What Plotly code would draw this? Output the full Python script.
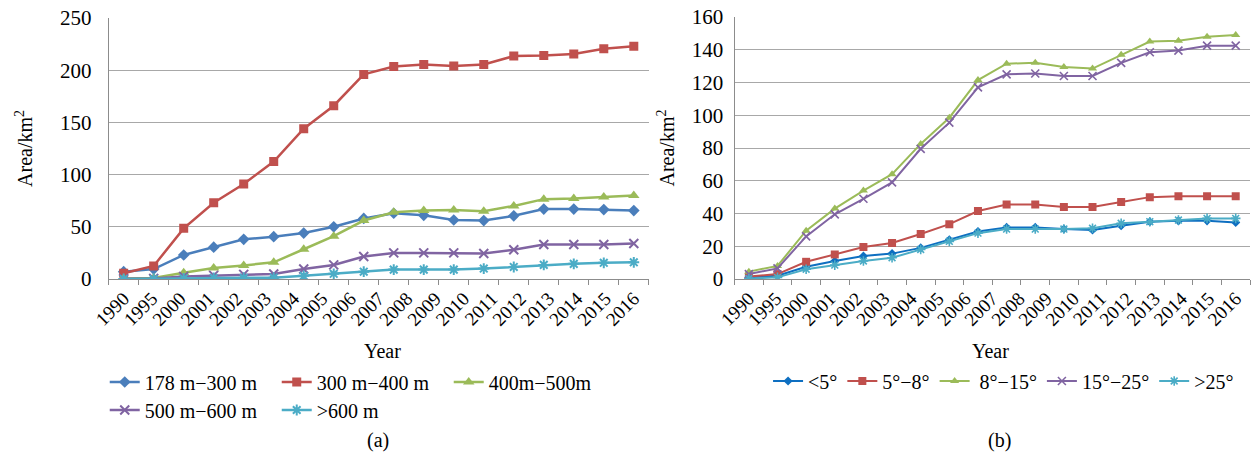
import plotly.graph_objects as go

# Category labels shown under both panels
years = ["1990", "1995", "2000", "2001", "2002", "2003", "2004", "2005", "2006",
         "2007", "2008", "2009", "2010", "2011", "2012", "2013", "2014", "2015", "2016"]

# Panel (a): area by elevation zone (km²)
elev_names = ["178 m−300 m", "300 m−400 m", "400m−500m", "500 m−600 m", ">600 m"]
elev_178_300 = [7, 9.5, 23, 30.5, 38, 40.5, 44, 50, 58, 63, 61, 56.5, 56, 60.5, 67, 67, 66.5, 65.5]
elev_300_400 = [5.5, 12.5, 48.5, 73, 91, 112.5, 144, 166, 196, 203.5, 205.5, 204, 205.5, 213.5, 214, 215.5, 220.5, 223]
elev_400_500 = [0.5, 1, 6, 10.5, 13, 16, 28.5, 41, 56, 64, 65.5, 66, 65, 70, 76.5, 77, 78.5, 80]
elev_500_600 = [0.3, 0.5, 2.5, 3.5, 4.4, 4.8, 9.5, 13.5, 21.5, 25, 25, 25, 24.5, 28, 33, 33, 33, 34]
elev_600_up = [0, 0, 0.5, 1, 1.2, 1.3, 3, 5, 7, 9, 9, 9, 10, 11.5, 13.5, 14.5, 15.5, 16]

# Panel (b): area by slope class (km²)
slope_names = ["<5°", "5°−8°", " 8°−15°", "15°−25°", ">25°"]
slope_lt5 = [1, 2, 7.5, 11, 14, 15.5, 19, 24, 29, 31.5, 31.5, 30.5, 30, 32.5, 35, 35.5, 35.5, 34.5]
slope_5_8 = [1.5, 3, 10.5, 15, 19.5, 22, 27.5, 33.5, 41.5, 45.5, 45.5, 44, 44, 47, 50, 50.5, 50.5, 50.5]
slope_8_15 = [4.5, 8, 29.5, 43, 54, 64, 82.5, 98.5, 121.5, 131.5, 132, 129.5, 128.5, 137, 145, 145.5, 148, 149]
slope_15_25 = [3, 6.5, 26, 39.5, 49, 59, 79.5, 95.5, 117, 125, 125.5, 124, 124, 132, 138.5, 139.5, 142.5, 142.5]
slope_gt25 = [0.3, 1, 6, 8.5, 11, 13, 18, 23, 28, 30.5, 30.5, 30.5, 31, 34, 35, 36, 37, 37]

W, H = 1252, 456
SERIF = "Liberation Serif, Times New Roman, serif"
GRID = "#A8A8A8"
AXIS = "#8C8C8C"


def xdom(a, b):
    return [a / W, b / W]


def ydom(top, bottom):
    return [1 - bottom / H, 1 - top / H]


def ypos(px):
    return 1 - px / H


fig = go.Figure()

styles_a = [
    ("#4A7EBB", "diamond", 9, 2.5),
    ("#C0504D", "square", 9, 2.5),
    ("#9BBB59", "triangle-up", 10, 2.5),
    ("#8064A2", "x-thin-open", 9, 2.5),
    ("#4BACC6", "asterisk-open", 9, 2.5),
]
series_a = [elev_178_300, elev_300_400, elev_400_500, elev_500_600, elev_600_up]
for i, (name, vals, (col, sym, size, lw)) in enumerate(zip(elev_names, series_a, styles_a)):
    open_sym = sym.endswith("open")
    fig.add_trace(go.Scatter(
        x=list(range(len(vals))), y=vals, name=name, mode="lines+markers",
        line=dict(color=col, width=lw),
        marker=dict(symbol=sym, size=size, color=col,
                    line=dict(color=col, width=2 if open_sym else 0)),
        xaxis="x", yaxis="y",
        legend="legend" if i < 3 else "legend2",
    ))

styles_b = [
    ("#0E6FC1", "diamond", 7, 2),
    ("#C0504D", "square", 8, 2),
    ("#9BBB59", "triangle-up", 8, 2),
    ("#8064A2", "x-thin-open", 8, 2),
    ("#4BACC6", "asterisk-open", 8, 2),
]
series_b = [slope_lt5, slope_5_8, slope_8_15, slope_15_25, slope_gt25]
for name, vals, (col, sym, size, lw) in zip(slope_names, series_b, styles_b):
    open_sym = sym.endswith("open")
    fig.add_trace(go.Scatter(
        x=list(range(len(vals))), y=vals, name=name, mode="lines+markers",
        line=dict(color=col, width=lw),
        marker=dict(symbol=sym, size=size, color=col,
                    line=dict(color=col, width=1.6 if open_sym else 0)),
        xaxis="x2", yaxis="y2", legend="legend3",
    ))

n_pts = len(elev_178_300)
label_pos = [i * (n_pts - 1) / (len(years) - 1) for i in range(len(years))]


def cat_axis(domain, anchor):
    return dict(
        domain=domain, anchor=anchor, range=[-0.5, n_pts - 0.5],
        tickmode="array", tickvals=label_pos, ticktext=years, tickangle=-45,
        ticks="", showgrid=False, zeroline=False,
        showline=True, linecolor=AXIS, linewidth=1,
        tickfont=dict(family=SERIF, size=19, color="black"),
        minor=dict(tickmode="linear", tick0=-0.5, dtick=1, ticks="outside",
                   ticklen=5, tickcolor=AXIS, tickwidth=1, showgrid=False),
    )


def val_axis(domain, anchor, top, step, standoff, title_gap):
    return dict(
        domain=domain, anchor=anchor, range=[0, top], dtick=step, tick0=0,
        showgrid=True, gridcolor=GRID, gridwidth=1, zeroline=False,
        showline=True, linecolor=AXIS, linewidth=1, ticks="",
        ticklabelstandoff=standoff,
        tickfont=dict(family=SERIF, size=21, color="black"),
        title=dict(text="Area/km<sup>2</sup>", standoff=title_gap,
                   font=dict(family=SERIF, size=20, color="black")),
        automargin=False,
    )


legend_common = dict(
    orientation="h", xanchor="left", yanchor="middle",
    font=dict(family=SERIF, size=20, color="black"),
    bgcolor="rgba(0,0,0,0)", itemwidth=30,
)

fig.update_layout(
    width=W, height=H, margin=dict(l=0, r=0, t=0, b=0),
    paper_bgcolor="white", plot_bgcolor="white",
    xaxis=cat_axis(xdom(92, 640), "y"),
    yaxis=val_axis(ydom(18, 279), "x", 250, 50, 12, 21),
    xaxis2=cat_axis(xdom(727, 1250), "y2"),
    yaxis2=val_axis(ydom(17, 279), "x2", 160, 20, 6, 11),
    legend=dict(legend_common, x=88 / W, y=ypos(382),
                entrywidth=127, entrywidthmode="pixels"),
    legend2=dict(legend_common, x=88 / W, y=ypos(410),
                 entrywidth=127, entrywidthmode="pixels"),
    legend3=dict(legend_common, x=761 / W, y=ypos(381)),
    showlegend=True,
)

annots = [
    dict(text="Year", x=370 / W, y=ypos(351)),
    dict(text="Year", x=987 / W, y=ypos(351)),
    dict(text="(a)", x=365 / W, y=ypos(440)),
    dict(text="(b)", x=996 / W, y=ypos(440)),
]
for a in annots:
    fig.add_annotation(
        xref="paper", yref="paper", showarrow=False,
        xanchor="center", yanchor="middle",
        font=dict(family=SERIF, size=20, color="black"), **a,
    )

fig.write_html("out.html")
